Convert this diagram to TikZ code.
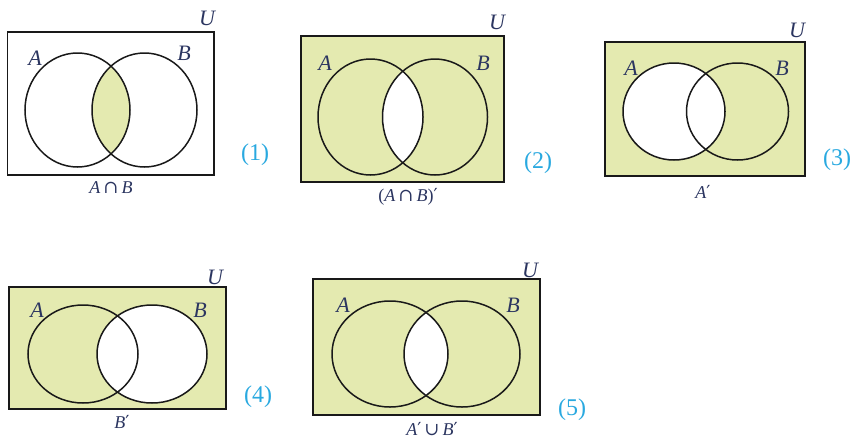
\documentclass[tikz,border=0pt]{standalone}
\usepackage{fontspec}
\setmainfont{Liberation Serif}
\newfontfamily\symf{DejaVu Serif}
\definecolor{fillc}{HTML}{E4EAB0}
\definecolor{labc}{HTML}{2B3560}
\definecolor{numc}{HTML}{29A9E0}
\tikzset{
  lab/.style={font=\fontsize{22}{23}\selectfont\itshape, text=labc, inner sep=0pt},
  sub/.style={font=\fontsize{18}{19}\selectfont, text=labc, inner sep=0pt},
  num/.style={font=\fontsize{24}{25}\selectfont, text=numc, inner sep=0pt},
  frame/.style={draw=black!90, line width=1.7pt},
  ring/.style={draw=black!90, line width=1.5pt},
}
\newcommand{\cp}{{\symf\,∩\,}}
\newcommand{\cu}{{\symf\,∪\,}}
\newcommand{\pr}{{\symf ′}}
\begin{document}
\begin{tikzpicture}[x=1pt,y=-1pt]
\useasboundingbox (0,0) rectangle (850,442);
\fill[white] (0,0) rectangle (850,442);

% ---------- Diagram 1 : A cap B ----------
\begin{scope}
  \clip (77.5,110) ellipse [x radius=52.5pt, y radius=57pt];
  \fill[fillc] (144.5,110) ellipse [x radius=52.5pt, y radius=57pt];
\end{scope}
\draw[frame] (7.5,32) rectangle (214,175);
\draw[ring] (77.5,110) ellipse [x radius=52.5pt, y radius=57pt];
\draw[ring] (144.5,110) ellipse [x radius=52.5pt, y radius=57pt];
\node[lab] (u1) at (207,18) {U};
\node[lab] (a1) at (35,58) {A};
\node[lab] (b1) at (184,53) {B};
\node[num] (n1) at (255,155) {(1)};
\node[sub] (t1) at (111,188) {\textit{A}\cp\textit{B}};

% ---------- Diagram 2 : (A cap B)' ----------
\fill[fillc] (301,36) rectangle (504,182);
\begin{scope}
  \clip (370.5,117) ellipse [x radius=52.5pt, y radius=58pt];
  \fill[white] (435,117) ellipse [x radius=52.5pt, y radius=58pt];
\end{scope}
\draw[frame] (301,36) rectangle (504,182);
\draw[ring] (370.5,117) ellipse [x radius=52.5pt, y radius=58pt];
\draw[ring] (435,117) ellipse [x radius=52.5pt, y radius=58pt];
\node[lab] (u2) at (497,22) {U};
\node[lab] (a2) at (325,63) {A};
\node[lab] (b2) at (483,63) {B};
\node[num] (n2) at (538,163) {(2)};
\node[sub] (t2) at (408,197) {(\textit{A}\cp\textit{B})\pr};

% ---------- Diagram 3 : A' ----------
\fill[fillc] (605,42) rectangle (805,176);
\fill[white] (674,111.5) ellipse [x radius=51pt, y radius=48.5pt];
\draw[frame] (605,42) rectangle (805,176);
\draw[ring] (674,111.5) ellipse [x radius=51pt, y radius=48.5pt];
\draw[ring] (737.5,111.5) ellipse [x radius=51pt, y radius=48.5pt];
\node[lab] (u3) at (797,30) {U};
\node[lab] (a3) at (631,68) {A};
\node[lab] (b3) at (782,68) {B};
\node[num] (n3) at (837,160) {(3)};
\node[sub] (t3) at (703,192) {\textit{A}\pr};

% ---------- Diagram 4 : B' ----------
\fill[fillc] (9,287) rectangle (226,409);
\fill[white] (152,354) ellipse [x radius=55pt, y radius=49pt];
\draw[frame] (9,287) rectangle (226,409);
\draw[ring] (83,354) ellipse [x radius=55pt, y radius=49pt];
\draw[ring] (152,354) ellipse [x radius=55pt, y radius=49pt];
\node[lab] (u4) at (215,277) {U};
\node[lab] (a4) at (37,310) {A};
\node[lab] (b4) at (200,310) {B};
\node[num] (n4) at (258,397) {(4)};
\node[sub] (t4) at (122,422) {\textit{B}\pr};

% ---------- Diagram 5 : A' cup B' ----------
\fill[fillc] (313,279) rectangle (540,415);
\begin{scope}
  \clip (390,354) ellipse [x radius=58pt, y radius=53pt];
  \fill[white] (462,354) ellipse [x radius=58pt, y radius=53pt];
\end{scope}
\draw[frame] (313,279) rectangle (540,415);
\draw[ring] (390,354) ellipse [x radius=58pt, y radius=53pt];
\draw[ring] (462,354) ellipse [x radius=58pt, y radius=53pt];
\node[lab] (u5) at (530,270) {U};
\node[lab] (a5) at (343,305) {A};
\node[lab] (b5) at (513,305) {B};
\node[num] (n5) at (572,410) {(5)};
\node[sub] (t5) at (432,429.5) {\textit{A}\pr\cu\textit{B}\pr};
\end{tikzpicture}
\end{document}
